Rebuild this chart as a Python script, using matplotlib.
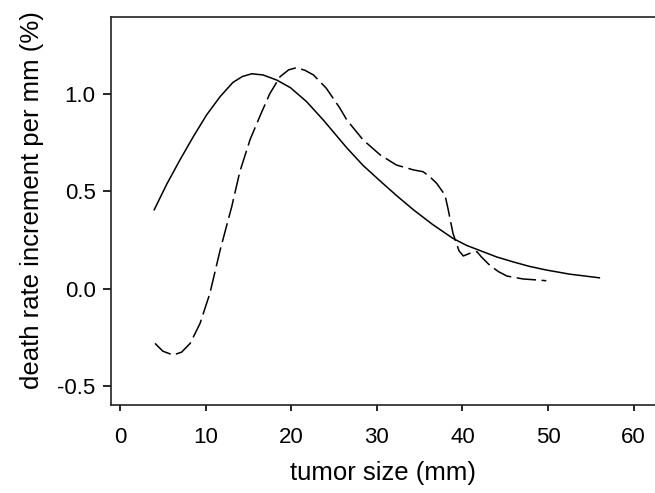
import matplotlib
matplotlib.use("Agg")
import matplotlib.pyplot as plt

plt.rcParams['font.family'] = ['Liberation Sans', 'DejaVu Sans']
plt.rcParams['axes.unicode_minus'] = False
plt.rcParams['lines.scale_dashes'] = False

# Solid curve
solid_x = [4.0, 5.45, 7.0, 8.57, 10.1, 11.7, 13.2, 14.3, 15.4, 16.7, 18.3, 19.9, 21.8,
           23.75, 25.0, 26.5, 28.4, 30.4, 32.3, 34.3, 36.5, 38.9, 40.5, 42.1, 44.0, 45.9,
           47.8, 49.8, 52.5, 56.0]
solid_y = [0.405, 0.535, 0.66, 0.78, 0.89, 0.985, 1.058, 1.088, 1.102, 1.096, 1.07, 1.031, 0.959,
           0.865, 0.80, 0.722, 0.632, 0.552, 0.478, 0.404, 0.33, 0.258, 0.222, 0.195, 0.163, 0.138,
           0.115, 0.096, 0.075, 0.056]

# Dashed curve
dashed_x = [4.09, 5.0, 6.2, 7.2, 8.2, 9.35, 10.5, 11.7, 12.5, 13.05, 14.0, 15.2, 16.4, 17.5,
            18.7, 19.7, 20.6, 21.6, 22.6, 24.1, 25.7, 26.5, 28.4, 30.4, 32.3, 34.3, 35.4,
            36.2, 37.0, 37.97, 38.35, 38.9, 39.6, 40.1, 40.9, 41.7, 42.2, 43.2, 44.2, 45.2,
            47.1, 48.7, 49.8]
dashed_y = [-0.28, -0.32, -0.34, -0.325, -0.28, -0.178, -0.024, 0.198, 0.33, 0.42, 0.6, 0.765, 0.89, 1.0,
            1.087, 1.122, 1.133, 1.12, 1.096, 1.028, 0.925, 0.865, 0.763, 0.686, 0.634, 0.609, 0.60,
            0.574, 0.54, 0.48, 0.404, 0.284, 0.195, 0.168, 0.182, 0.19, 0.164, 0.12, 0.088, 0.065,
            0.05, 0.045, 0.041]

x_ticks = [0, 10, 20, 30, 40, 50, 60]
y_ticks = [-0.5, 0.0, 0.5, 1.0]
y_tick_labels = ['-0.5', '0.0', '0.5', '1.0']

fig = plt.figure(figsize=(6.55, 4.93), dpi=100)
ax = fig.add_axes([111/655, 88/493, 1 - 111/655, (405 - 17)/493])

ax.plot(solid_x, solid_y, color='black', lw=1.1)
ax.plot(dashed_x, dashed_y, color='black', lw=1.1, dashes=(14, 4))

ax.set_xlim(-1.05, 62.5)
ax.set_ylim(-0.596, 1.393)
ax.set_xticks(x_ticks)
ax.set_xticklabels([str(t) for t in x_ticks])
ax.set_yticks(y_ticks)
ax.set_yticklabels(y_tick_labels)

for s in ['left', 'top', 'bottom']:
    ax.spines[s].set_linewidth(1.2)
    ax.spines[s].set_color('#222222')
ax.spines['right'].set_visible(False)

ax.tick_params(axis='x', direction='out', length=4, width=1.2, labelsize=16, pad=12)
ax.tick_params(axis='y', direction='out', length=6, width=1.2, labelsize=16, pad=5)

ax.set_xlabel('tumor size (mm)', fontsize=18.5, labelpad=9)
ax.set_ylabel('death rate increment per mm (%)', fontsize=18.5)
ax.yaxis.set_label_coords(-0.123, 0.528)

fig.savefig('out.png', dpi=100)
